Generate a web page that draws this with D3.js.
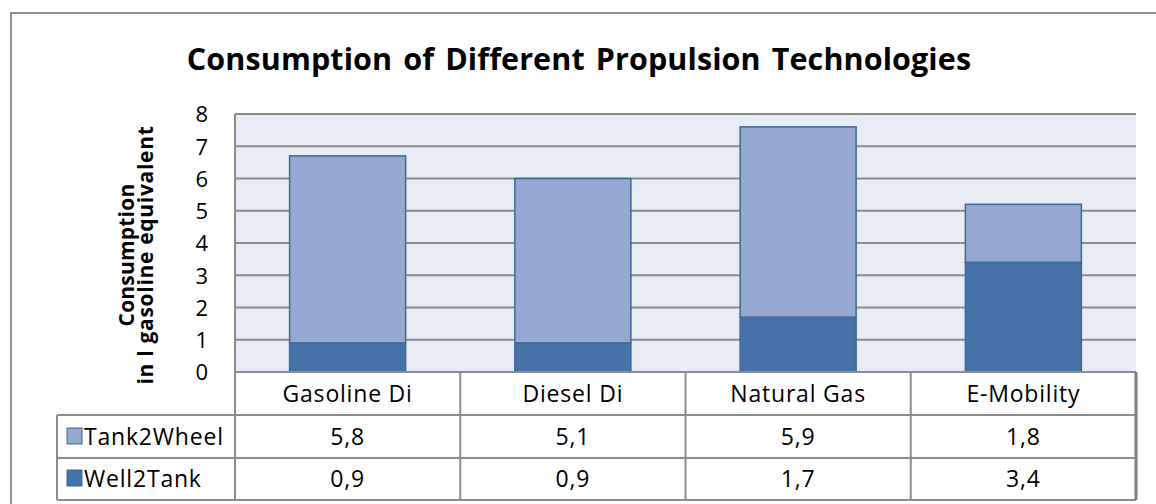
<!DOCTYPE html>
<html>
<head>
<meta charset="utf-8">
<script src="https://cdn.jsdelivr.net/npm/d3@7"></script>
<style>
  html, body { margin: 0; padding: 0; background: #fff; }
  svg { display: block; }
  text { font-family: "Open Sans", "DejaVu Sans", sans-serif; fill: #000; }
</style>
</head>
<body>
<svg id="chart" width="1156" height="504"></svg>
<script>
const categories = ["Gasoline Di", "Diesel Di", "Natural Gas", "E-Mobility"];
const seriesNames = ["Tank2Wheel", "Well2Tank"];
const tank2wheel = [5.8, 5.1, 5.9, 1.8];
const well2tank = [0.9, 0.9, 1.7, 3.4];
const yTicks = [0, 1, 2, 3, 4, 5, 6, 7, 8];
const titleText = "Consumption of Different Propulsion Technologies";
const yTitleLines = ["Consumption", "in l gasoline equivalent"];

const colors = { Tank2Wheel: "#95A9D0", Well2Tank: "#4573A7" };
const gridColor = "#8C8C8C";

const svg = d3.select("#chart");

// outer frame
svg.append("rect").attr("x", 11).attr("y", 13).attr("width", 1160).attr("height", 510)
  .attr("fill", "#fff").attr("stroke", "#8E8E8E").attr("stroke-width", 2);

const plot = { left: 235, right: 1136, top: 114, bottom: 372 };
const x = d3.scaleBand().domain(categories).range([plot.left, plot.right])
  .paddingInner(0.485).paddingOuter(0.2425);
const xCol = d3.scaleBand().domain(categories).range([plot.left, plot.right]);
const y = d3.scaleLinear().domain([0, 8]).range([plot.bottom, plot.top]);

// plot background
svg.append("rect").attr("x", plot.left).attr("y", plot.top)
  .attr("width", plot.right - plot.left).attr("height", plot.bottom - plot.top)
  .attr("fill", "#E8ECF4");

// gridlines
svg.append("g").selectAll("line").data(yTicks.slice(1)).join("line")
  .attr("x1", plot.left).attr("x2", plot.right)
  .attr("y1", d => y(d)).attr("y2", d => y(d))
  .attr("stroke", gridColor).attr("stroke-width", 2);

// title
svg.append("text").attr("x", 579).attr("y", 70).attr("text-anchor", "middle")
  .attr("font-size", 30.5).attr("font-weight", "bold").attr("letter-spacing", 0.1)
  .attr("word-spacing", 3)
  .text(titleText);

// y axis tick labels
const yAxis = d3.axisLeft(y).tickValues(yTicks).tickSize(0).tickPadding(0).tickFormat(d3.format("d"));
const yg = svg.append("g").attr("transform", `translate(208,0)`).call(yAxis);
yg.select(".domain").remove();
yg.selectAll("text").attr("font-size", 22).attr("font-family", "Open Sans").attr("fill", "#000").attr("dy", "0.36em");

// y title
const yt = svg.append("text").attr("transform", `translate(0,${(plot.top + plot.bottom) / 2 + 12}) rotate(-90)`)
  .attr("text-anchor", "middle").attr("font-weight", "bold").attr("font-size", 21);
yt.append("tspan").attr("x", 0).attr("y", 134).attr("letter-spacing", 0.2).text(yTitleLines[0]);
yt.append("tspan").attr("x", 0).attr("y", 153).attr("letter-spacing", 0.7).text(yTitleLines[1]);

// stacked bars
const rows = categories.map((c, i) => ({ cat: c, Well2Tank: well2tank[i], Tank2Wheel: tank2wheel[i] }));
const stack = d3.stack().keys(["Well2Tank", "Tank2Wheel"]);
const layers = stack(rows);
svg.append("g").selectAll("g").data(layers).join("g")
  .attr("fill", d => colors[d.key])
  .selectAll("rect").data(d => d).join("rect")
  .attr("x", d => x(d.data.cat))
  .attr("width", x.bandwidth())
  .attr("y", d => y(d[1]))
  .attr("height", d => y(d[0]) - y(d[1]))
  .attr("stroke", "#3D6798").attr("stroke-width", 1.5);

// axis line at zero
svg.append("line").attr("x1", plot.left).attr("x2", plot.right).attr("y1", plot.bottom).attr("y2", plot.bottom)
  .attr("stroke", gridColor).attr("stroke-width", 2);

// data table
const tbl = { left: 57, bottom: 500 };
const lineAttr = sel => sel.attr("stroke", gridColor).attr("stroke-width", 2);
[415, 458, 500].forEach(yy => {
  svg.append("line").attr("x1", tbl.left).attr("x2", plot.right).attr("y1", yy).attr("y2", yy).call(lineAttr);
});
svg.append("line").attr("x1", tbl.left).attr("x2", tbl.left).attr("y1", 415).attr("y2", 500).call(lineAttr);
svg.append("line").attr("x1", plot.left).attr("x2", plot.left).attr("y1", plot.top).attr("y2", 500).call(lineAttr);
categories.forEach(c => {
  const xr = xCol(c) + xCol.bandwidth();
  const edge = xr >= plot.right - 1;
  svg.append("line").attr("x1", xr).attr("x2", xr).attr("y1", 372).attr("y2", 500)
    .attr("stroke", edge ? "#7F7F7F" : gridColor).attr("stroke-width", edge ? 3 : 2);
});

// category labels
svg.append("g").selectAll("text").data(categories).join("text")
  .attr("x", d => xCol(d) + xCol.bandwidth() / 2).attr("y", 402)
  .attr("text-anchor", "middle").attr("font-size", 23).attr("letter-spacing", 0.8)
  .text(d => d);

const fmt = v => d3.format(".1f")(v).replace(".", ",");
const tableRows = [
  { name: seriesNames[0], values: tank2wheel, base: 445 },
  { name: seriesNames[1], values: well2tank, base: 487 }
];
tableRows.forEach(r => {
  svg.append("rect").attr("x", 67).attr("y", r.base - 17).attr("width", 15).attr("height", 16)
    .attr("fill", colors[r.name]).attr("stroke", "#3D6798").attr("stroke-width", 1);
  svg.append("text").attr("x", 84).attr("y", r.base).attr("font-size", 23).attr("letter-spacing", 0.8).text(r.name);
  svg.append("g").selectAll("text").data(r.values.map((v, i) => ({ v, c: categories[i] }))).join("text")
    .attr("x", d => xCol(d.c) + xCol.bandwidth() / 2).attr("y", r.base)
    .attr("text-anchor", "middle").attr("font-size", 23).attr("letter-spacing", 0.8)
    .text(d => fmt(d.v));
});
</script>
</body>
</html>
